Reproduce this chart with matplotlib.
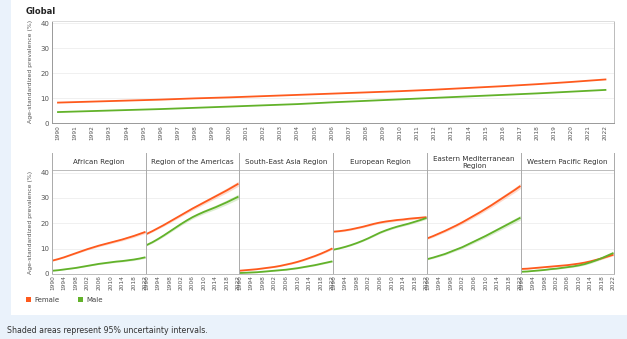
import numpy as np
import matplotlib
matplotlib.use("Agg")
import matplotlib.pyplot as plt
from matplotlib.patches import Rectangle
from matplotlib.lines import Line2D

# ---------------- data ----------------
years_global = list(range(1990, 2023, 2))
global_female = [8.2, 8.6, 9.0, 9.4, 9.9, 10.3, 10.8, 11.3, 11.8, 12.3, 12.8, 13.4, 14.1, 14.8, 15.6, 16.5, 17.5]
global_male = [4.4, 4.8, 5.2, 5.6, 6.1, 6.6, 7.1, 7.6, 8.3, 8.9, 9.5, 10.1, 10.7, 11.3, 11.9, 12.6, 13.3]

years = list(range(1990, 2023, 2))
regions = ["African Region", "Region of the Americas", "South-East Asia Region",
           "European Region", "Eastern Mediterranean\nRegion", "Western Pacific Region"]
female = [
    [5.3, 5.9, 6.6, 7.4, 8.2, 9.0, 9.8, 10.5, 11.2, 11.8, 12.4, 13.0, 13.6, 14.3, 15.0, 15.8, 16.6],
    [15.8, 16.9, 18.1, 19.3, 20.6, 21.9, 23.2, 24.5, 25.8, 27.0, 28.2, 29.4, 30.6, 31.8, 33.0, 34.3, 35.6],
    [1.3, 1.5, 1.7, 1.9, 2.2, 2.5, 2.8, 3.2, 3.7, 4.2, 4.8, 5.5, 6.3, 7.1, 8.0, 9.0, 10.1],
    [16.7, 16.9, 17.2, 17.6, 18.1, 18.6, 19.2, 19.8, 20.3, 20.7, 21.0, 21.3, 21.5, 21.8, 22.0, 22.2, 22.4],
    [14.1, 15.0, 16.0, 17.0, 18.1, 19.2, 20.4, 21.7, 23.0, 24.3, 25.7, 27.1, 28.6, 30.1, 31.6, 33.1, 34.7],
    [2.0, 2.1, 2.3, 2.5, 2.7, 2.9, 3.1, 3.3, 3.5, 3.8, 4.1, 4.5, 5.0, 5.6, 6.2, 6.9, 7.6],
]
male = [
    [1.3, 1.5, 1.8, 2.1, 2.4, 2.8, 3.2, 3.6, 4.0, 4.3, 4.6, 4.9, 5.1, 5.4, 5.7, 6.1, 6.6],
    [11.4, 12.5, 13.8, 15.2, 16.7, 18.2, 19.7, 21.1, 22.4, 23.5, 24.5, 25.4, 26.3, 27.3, 28.3, 29.4, 30.5],
    [0.4, 0.5, 0.6, 0.7, 0.9, 1.1, 1.3, 1.5, 1.7, 2.0, 2.3, 2.7, 3.1, 3.5, 4.0, 4.5, 5.0],
    [9.6, 10.1, 10.7, 11.4, 12.2, 13.1, 14.1, 15.2, 16.3, 17.2, 18.0, 18.7, 19.3, 19.9, 20.6, 21.3, 22.1],
    [5.9, 6.5, 7.2, 7.9, 8.8, 9.7, 10.6, 11.7, 12.8, 13.9, 15.0, 16.2, 17.4, 18.6, 19.8, 21.0, 22.2],
    [0.9, 1.0, 1.2, 1.4, 1.6, 1.9, 2.1, 2.4, 2.7, 3.0, 3.4, 3.9, 4.6, 5.4, 6.3, 7.3, 8.3],
]
# uncertainty half-widths (start, end) per region
female_ui = [(0.2, 0.6), (0.3, 1.0), (0.1, 0.4), (0.3, 0.5), (0.4, 1.0), (0.1, 0.4)]
male_ui = [(0.1, 0.4), (0.3, 1.0), (0.1, 0.3), (0.2, 0.5), (0.3, 0.9), (0.1, 0.5)]

bottom_ticks = list(range(1990, 2023, 4))
y_ticks = [0, 10, 20, 30, 40]

# ---------------- style ----------------
C_F = "#fe5a1d"
C_M = "#62b22a"
W, H = 627, 339
plt.rcParams['font.family'] = ['DejaVu Sans']

fig = plt.figure(figsize=(W / 100, H / 100), dpi=100, facecolor="#eaf2fb")
fig.patches.append(Rectangle((11 / W, 1 - 315 / H), (W - 11) / W, 315 / H,
                             transform=fig.transFigure, facecolor="white",
                             edgecolor="none", zorder=-10))


def rect(x0, y0, x1, y1):
    return [x0 / W, 1 - y1 / H, (x1 - x0) / W, (y1 - y0) / H]


def fy(y):
    return 1 - y / H


def style_ax(ax):
    ax.set_facecolor("white")
    ax.set_zorder(1)
    ax.set_ylim(0, 41)
    ax.set_yticks(y_ticks)
    ax.grid(axis="y", color="#eeeeee", lw=0.6)
    ax.set_axisbelow(True)
    ax.tick_params(length=0, labelsize=4.3, colors="#555555", pad=1.5)
    for s in ax.spines.values():
        s.set_color("#bbbbbb")
        s.set_linewidth(0.7)


# ---------------- top (Global) ----------------
ax = fig.add_axes(rect(52, 21, 614, 123))
style_ax(ax)
ax.plot(years_global, global_female, color=C_F, lw=1.3)
ax.plot(years_global, global_male, color=C_M, lw=1.3)
ax.set_xlim(1989.65, 2022.5)
ax.set_xticks(list(range(1990, 2023)))
ax.tick_params(axis="x", labelrotation=90, labelsize=4.2)
ax.tick_params(axis="y", labelsize=5, pad=2)
ax.spines["top"].set_color("#dddddd")
ax.spines["left"].set_color("#999999")
ax.spines["bottom"].set_color("#999999")

fig.text(26 / W, fy(12), "Global", fontsize=6, fontweight="bold", va="center", color="#222222")
fig.text(31 / W, fy(71), "Age-standardized prevalence (%)", rotation=90, fontsize=4.4,
         va="center", ha="center", color="#555555")

# ---------------- bottom facets ----------------
edges = [52, 146, 239, 333, 427, 521, 614]
top_y, bot_y, head_y = 170, 274, 153
for i, reg in enumerate(regions):
    ax = fig.add_axes(rect(edges[i], top_y, edges[i + 1], bot_y))
    style_ax(ax)
    f = np.array(female[i])
    m = np.array(male[i])
    fw = np.linspace(female_ui[i][0], female_ui[i][1], len(years))
    mw = np.linspace(male_ui[i][0], male_ui[i][1], len(years))
    ax.fill_between(years, f - fw, f + fw, color=C_F, alpha=0.22, lw=0)
    ax.fill_between(years, m - mw, m + mw, color=C_M, alpha=0.22, lw=0)
    ax.plot(years, f, color=C_F, lw=1.3, solid_capstyle="butt")
    ax.plot(years, m, color=C_M, lw=1.3, solid_capstyle="butt")
    ax.set_xlim(1989.8, 2022.2)
    ax.set_xticks(bottom_ticks)
    ax.tick_params(axis="x", labelrotation=90, labelsize=4.2, pad=1)
    ax.spines["left"].set_color("#aaaaaa")
    ax.spines["right"].set_visible(i == len(regions) - 1)
    ax.spines["right"].set_color("#aaaaaa")
    if i == 0:
        ax.tick_params(axis="y", labelsize=5, pad=2)
    else:
        ax.tick_params(axis="y", labelleft=False)
    cx = (edges[i] + edges[i + 1]) / 2
    fig.text(cx / W, fy((head_y + top_y) / 2 + 0.5), reg, fontsize=5.1, ha="center",
             va="center", color="#333333", linespacing=1.2)

for e in edges:
    fig.add_artist(Line2D([e / W, e / W], [fy(head_y), fy(top_y)], color="#aaaaaa",
                          lw=0.7, transform=fig.transFigure))

fig.text(31 / W, fy(222), "Age-standardized prevalence (%)", rotation=90, fontsize=4.4,
         va="center", ha="center", color="#555555")

# ---------------- legend ----------------
fig.patches.append(Rectangle((26 / W, fy(302)), 5 / W, 5 / H, transform=fig.transFigure,
                             facecolor=C_F, edgecolor="none"))
fig.text(34 / W, fy(299.5), "Female", fontsize=5, va="center", color="#444444")
fig.patches.append(Rectangle((78 / W, fy(302)), 5 / W, 5 / H, transform=fig.transFigure,
                             facecolor=C_M, edgecolor="none"))
fig.text(86 / W, fy(299.5), "Male", fontsize=5, va="center", color="#444444")

fig.text(7 / W, fy(330.5), "Shaded areas represent 95% uncertainty intervals.",
         fontsize=5.7, va="center", color="#333333")

fig.savefig("out.png", dpi=100, facecolor=fig.get_facecolor())
